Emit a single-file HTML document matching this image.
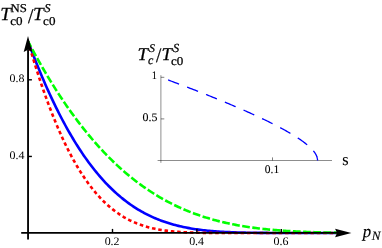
<!DOCTYPE html>
<html><head><meta charset="utf-8"><style>
html,body{margin:0;padding:0;background:#fff;}
svg{display:block;will-change:transform;}
text{text-rendering:geometricPrecision;font-family:"Liberation Serif",serif;fill:#000;}
.i{font-style:italic;}
</style></head><body>
<svg width="382" height="248" viewBox="0 0 382 248">
<rect width="382" height="248" fill="#fff"/>
<!-- curves -->
<path d="M28.10,41.50 L29.65,45.65 L31.20,49.75 L32.75,53.78 L34.30,57.76 L35.85,61.67 L37.40,65.53 L38.95,69.32 L40.50,73.06 L42.05,76.74 L43.60,80.36 L45.15,83.93 L46.70,87.44 L48.25,90.89 L49.80,94.29 L51.35,97.63 L52.90,100.91 L54.45,104.14 L56.00,107.32 L57.55,110.44 L59.09,113.51 L60.64,116.52 L62.19,119.49 L63.74,122.40 L65.29,125.25 L66.84,128.06 L68.39,130.81 L69.94,133.52 L71.49,136.17 L73.04,138.77 L74.59,141.33 L76.14,143.83 L77.69,146.29 L79.24,148.70 L80.79,151.06 L82.34,153.38 L83.89,155.64 L85.44,157.87 L86.99,160.04 L88.54,162.17 L90.09,164.26 L91.64,166.30 L93.19,168.30 L94.74,170.25 L96.29,172.17 L97.84,174.04 L99.39,175.86 L100.94,177.65 L102.49,179.40 L104.04,181.10 L105.59,182.77 L107.14,184.40 L108.69,185.99 L110.24,187.54 L111.79,189.05 L113.34,190.52 L114.89,191.96 L116.44,193.37 L117.99,194.73 L119.54,196.07 L121.08,197.37 L122.63,198.63 L124.18,199.86 L125.73,201.06 L127.28,202.22 L128.83,203.36 L130.38,204.46 L131.93,205.53 L133.48,206.57 L135.03,207.58 L136.58,208.56 L138.13,209.52 L139.68,210.44 L141.23,211.34 L142.78,212.21 L144.33,213.05 L145.88,213.87 L147.43,214.66 L148.98,215.43 L150.53,216.17 L152.08,216.89 L153.63,217.58 L155.18,218.25 L156.73,218.90 L158.28,219.53 L159.83,220.13 L161.38,220.72 L162.93,221.28 L164.48,221.82 L166.03,222.35 L167.58,222.85 L169.13,223.34 L170.68,223.80 L172.23,224.25 L173.78,224.68 L175.33,225.10 L176.88,225.50 L178.43,225.88 L179.98,226.25 L181.53,226.60 L183.07,226.94 L184.62,227.26 L186.17,227.57 L187.72,227.87 L189.27,228.15 L190.82,228.42 L192.37,228.68 L193.92,228.93 L195.47,229.17 L197.02,229.39 L198.57,229.61 L200.12,229.81 L201.67,230.00 L203.22,230.19 L204.77,230.36 L206.32,230.53 L207.87,230.69 L209.42,230.84 L210.97,230.98 L212.52,231.11 L214.07,231.24 L215.62,231.36 L217.17,231.47 L218.72,231.58 L220.27,231.68 L221.82,231.77 L223.37,231.86 L224.92,231.94 L226.47,232.02 L228.02,232.10 L229.57,232.17 L231.12,232.23 L232.67,232.29 L234.22,232.35 L235.77,232.40 L237.32,232.45 L238.87,232.49 L240.42,232.54 L241.97,232.58 L243.52,232.61 L245.06,232.65 L246.61,232.68 L248.16,232.71 L249.71,232.73 L251.26,232.76 L252.81,232.78 L254.36,232.80 L255.91,232.82 L257.46,232.84 L259.01,232.86 L260.56,232.87 L262.11,232.88 L263.66,232.90 L265.21,232.91 L266.76,232.92 L268.31,232.93 L269.86,232.93 L271.41,232.94 L272.96,232.95 L274.51,232.95 L276.06,232.96 L277.61,232.96 L279.16,232.97 L280.71,232.97 L282.26,232.98 L283.81,232.98 L285.36,232.98 L286.91,232.98 L288.46,232.99 L290.01,232.99 L291.56,232.99 L293.11,232.99 L294.66,232.99 L296.21,232.99 L297.76,232.99 L299.31,233.00 L300.86,233.00 L302.41,233.00 L303.96,233.00 L305.51,233.00 L307.05,233.00 L308.60,233.00 L310.15,233.00 L311.70,233.00 L313.25,233.00 L314.80,233.00 L316.35,233.00 L317.90,233.00 L319.45,233.00 L321.00,233.00 L322.55,233.00 L324.10,233.00 L325.65,233.00 L327.20,233.00 L328.75,233.00 L330.30,233.00 L331.85,233.00 L333.40,233.00 L334.95,233.00 L336.50,233.00" fill="none" stroke="#0000ff" stroke-width="2.6"/>
<path d="M28.10,41.50 L29.65,46.86 L31.20,52.13 L32.75,57.29 L34.30,62.36 L35.85,67.33 L37.40,72.20 L38.95,76.97 L40.50,81.65 L42.05,86.23 L43.60,90.72 L45.15,95.11 L46.70,99.41 L48.25,103.62 L49.80,107.74 L51.35,111.76 L52.90,115.70 L54.45,119.55 L56.00,123.31 L57.55,126.99 L59.09,130.57 L60.64,134.08 L62.19,137.50 L63.74,140.83 L65.29,144.09 L66.84,147.26 L68.39,150.35 L69.94,153.37 L71.49,156.30 L73.04,159.16 L74.59,161.94 L76.14,164.65 L77.69,167.28 L79.24,169.84 L80.79,172.33 L82.34,174.75 L83.89,177.09 L85.44,179.37 L86.99,181.58 L88.54,183.73 L90.09,185.81 L91.64,187.82 L93.19,189.77 L94.74,191.66 L96.29,193.49 L97.84,195.26 L99.39,196.97 L100.94,198.62 L102.49,200.21 L104.04,201.75 L105.59,203.24 L107.14,204.67 L108.69,206.05 L110.24,207.38 L111.79,208.66 L113.34,209.89 L114.89,211.08 L116.44,212.22 L117.99,213.31 L119.54,214.36 L121.08,215.37 L122.63,216.33 L124.18,217.26 L125.73,218.14 L127.28,218.99 L128.83,219.80 L130.38,220.57 L131.93,221.30 L133.48,222.01 L135.03,222.68 L136.58,223.32 L138.13,223.92 L139.68,224.50 L141.23,225.05 L142.78,225.57 L144.33,226.06 L145.88,226.53 L147.43,226.97 L148.98,227.39 L150.53,227.79 L152.08,228.16 L153.63,228.51 L155.18,228.84 L156.73,229.15 L158.28,229.44 L159.83,229.72 L161.38,229.98 L162.93,230.22 L164.48,230.44 L166.03,230.65 L167.58,230.85 L169.13,231.03 L170.68,231.20 L172.23,231.36 L173.78,231.50 L175.33,231.64 L176.88,231.77 L178.43,231.88 L179.98,231.99 L181.53,232.09 L183.07,232.18 L184.62,232.26 L186.17,232.34 L187.72,232.40 L189.27,232.47 L190.82,232.53 L192.37,232.58 L193.92,232.62 L195.47,232.67 L197.02,232.71 L198.57,232.74 L200.12,232.77 L201.67,232.80 L203.22,232.83 L204.77,232.85 L206.32,232.87 L207.87,232.89 L209.42,232.90 L210.97,232.91 L212.52,232.93 L214.07,232.94 L215.62,232.95 L217.17,232.95 L218.72,232.96 L220.27,232.97 L221.82,232.97 L223.37,232.98 L224.92,232.98 L226.47,232.98 L228.02,232.99 L229.57,232.99 L231.12,232.99 L232.67,232.99 L234.22,232.99 L235.77,233.00 L237.32,233.00 L238.87,233.00 L240.42,233.00 L241.97,233.00 L243.52,233.00 L245.06,233.00 L246.61,233.00 L248.16,233.00 L249.71,233.00 L251.26,233.00 L252.81,233.00 L254.36,233.00 L255.91,233.00 L257.46,233.00 L259.01,233.00 L260.56,233.00 L262.11,233.00 L263.66,233.00 L265.21,233.00 L266.76,233.00 L268.31,233.00 L269.86,233.00 L271.41,233.00 L272.96,233.00 L274.51,233.00 L276.06,233.00 L277.61,233.00 L279.16,233.00 L280.71,233.00 L282.26,233.00 L283.81,233.00 L285.36,233.00 L286.91,233.00 L288.46,233.00 L290.01,233.00 L291.56,233.00 L293.11,233.00 L294.66,233.00 L296.21,233.00 L297.76,233.00 L299.31,233.00 L300.86,233.00 L302.41,233.00 L303.96,233.00 L305.51,233.00 L307.05,233.00 L308.60,233.00 L310.15,233.00 L311.70,233.00 L313.25,233.00 L314.80,233.00 L316.35,233.00 L317.90,233.00 L319.45,233.00 L321.00,233.00 L322.55,233.00 L324.10,233.00 L325.65,233.00 L327.20,233.00 L328.75,233.00 L330.30,233.00 L331.85,233.00 L333.40,233.00 L334.95,233.00 L336.50,233.00" fill="none" stroke="#ff0000" stroke-width="2.6" stroke-dasharray="3.55 2.8" stroke-dashoffset="0.4"/>
<path d="M28.10,41.50 L29.65,44.43 L31.20,47.34 L32.75,50.21 L34.30,53.06 L35.85,55.88 L37.40,58.66 L38.95,61.42 L40.50,64.14 L42.05,66.84 L43.60,69.51 L45.15,72.15 L46.70,74.76 L48.25,77.34 L49.80,79.90 L51.35,82.42 L52.90,84.92 L54.45,87.39 L56.00,89.83 L57.55,92.24 L59.09,94.62 L60.64,96.98 L62.19,99.31 L63.74,101.61 L65.29,103.89 L66.84,106.14 L68.39,108.36 L69.94,110.55 L71.49,112.72 L73.04,114.86 L74.59,116.97 L76.14,119.06 L77.69,121.12 L79.24,123.16 L80.79,125.17 L82.34,127.15 L83.89,129.11 L85.44,131.05 L86.99,132.95 L88.54,134.84 L90.09,136.70 L91.64,138.53 L93.19,140.34 L94.74,142.12 L96.29,143.88 L97.84,145.62 L99.39,147.33 L100.94,149.02 L102.49,150.69 L104.04,152.33 L105.59,153.95 L107.14,155.54 L108.69,157.12 L110.24,158.66 L111.79,160.19 L113.34,161.70 L114.89,163.18 L116.44,164.64 L117.99,166.08 L119.54,167.49 L121.08,168.89 L122.63,170.26 L124.18,171.62 L125.73,172.95 L127.28,174.26 L128.83,175.55 L130.38,176.82 L131.93,178.06 L133.48,179.29 L135.03,180.50 L136.58,181.69 L138.13,182.86 L139.68,184.01 L141.23,185.14 L142.78,186.25 L144.33,187.34 L145.88,188.42 L147.43,189.47 L148.98,190.51 L150.53,191.53 L152.08,192.53 L153.63,193.51 L155.18,194.48 L156.73,195.43 L158.28,196.36 L159.83,197.27 L161.38,198.17 L162.93,199.05 L164.48,199.91 L166.03,200.76 L167.58,201.59 L169.13,202.40 L170.68,203.20 L172.23,203.98 L173.78,204.75 L175.33,205.50 L176.88,206.24 L178.43,206.96 L179.98,207.67 L181.53,208.36 L183.07,209.04 L184.62,209.71 L186.17,210.36 L187.72,211.00 L189.27,211.62 L190.82,212.23 L192.37,212.83 L193.92,213.41 L195.47,213.98 L197.02,214.54 L198.57,215.09 L200.12,215.62 L201.67,216.14 L203.22,216.65 L204.77,217.15 L206.32,217.63 L207.87,218.11 L209.42,218.57 L210.97,219.02 L212.52,219.46 L214.07,219.89 L215.62,220.31 L217.17,220.72 L218.72,221.12 L220.27,221.51 L221.82,221.89 L223.37,222.26 L224.92,222.62 L226.47,222.97 L228.02,223.31 L229.57,223.64 L231.12,223.96 L232.67,224.28 L234.22,224.58 L235.77,224.88 L237.32,225.17 L238.87,225.45 L240.42,225.73 L241.97,225.99 L243.52,226.25 L245.06,226.50 L246.61,226.74 L248.16,226.98 L249.71,227.21 L251.26,227.43 L252.81,227.64 L254.36,227.85 L255.91,228.05 L257.46,228.25 L259.01,228.44 L260.56,228.62 L262.11,228.80 L263.66,228.97 L265.21,229.14 L266.76,229.30 L268.31,229.45 L269.86,229.60 L271.41,229.75 L272.96,229.89 L274.51,230.02 L276.06,230.15 L277.61,230.28 L279.16,230.40 L280.71,230.51 L282.26,230.63 L283.81,230.74 L285.36,230.84 L286.91,230.94 L288.46,231.04 L290.01,231.13 L291.56,231.22 L293.11,231.30 L294.66,231.39 L296.21,231.47 L297.76,231.54 L299.31,231.61 L300.86,231.68 L302.41,231.75 L303.96,231.82 L305.51,231.88 L307.05,231.94 L308.60,231.99 L310.15,232.05 L311.70,232.10 L313.25,232.15 L314.80,232.19 L316.35,232.24 L317.90,232.28 L319.45,232.32 L321.00,232.36 L322.55,232.40 L324.10,232.43 L325.65,232.47 L327.20,232.50 L328.75,232.53 L330.30,232.56 L331.85,232.58 L333.40,232.61 L334.95,232.63 L336.50,232.66" fill="none" stroke="#00ff00" stroke-width="2.6" stroke-dasharray="7.7 2.5" stroke-dashoffset="1.4"/>
<!-- main axes -->
<g stroke="#000" stroke-width="1.85" fill="none">
<line x1="21.2" y1="232.8" x2="337" y2="232.8"/>
<line x1="28.05" y1="239.4" x2="28.05" y2="50"/>
</g>
<g stroke="#000" stroke-width="1.4" fill="none">
<line x1="112.5" y1="232.8" x2="112.5" y2="228.9"/>
<line x1="196.9" y1="232.8" x2="196.9" y2="228.9"/>
<line x1="281.3" y1="232.8" x2="281.3" y2="228.9"/>
<line x1="28" y1="79.8" x2="31.9" y2="79.8"/>
<line x1="28" y1="156.45" x2="31.9" y2="156.45"/>
</g>
<path d="M28,35.9 L32.3,52 L28,49.8 L23.7,52 Z" fill="#000"/>
<path d="M351.4,232.9 L335.1,237.2 L337,232.9 L335.1,228.7 Z" fill="#000"/>
<text transform="translate(112.1,244.75) scale(1.04,1)" font-size="11.5" text-anchor="middle" stroke="#000" stroke-width="0">0.2</text>
<text transform="translate(196.6,244.75) scale(1.04,1)" font-size="11.5" text-anchor="middle" stroke="#000" stroke-width="0">0.4</text>
<text transform="translate(281.0,244.75) scale(1.04,1)" font-size="11.5" text-anchor="middle" stroke="#000" stroke-width="0">0.6</text>
<text transform="translate(24.4,82.3) scale(1.04,1)" font-size="11.5" text-anchor="end" stroke="#000" stroke-width="0">0.8</text>
<text transform="translate(24.4,158.95) scale(1.04,1)" font-size="11.5" text-anchor="end" stroke="#000" stroke-width="0">0.4</text>
<text transform="translate(0.2,19.8) scale(1.03,1)" font-size="18.5" text-anchor="start" stroke="#000" stroke-width="0.25" class="i">T</text>
<text transform="translate(10.6,11.9) scale(1.063,1)" font-size="12" text-anchor="start" stroke="#000" stroke-width="0.25">NS</text>
<text transform="translate(10.2,24.8) scale(1.088,1)" font-size="12" text-anchor="start" stroke="#000" stroke-width="0.25">c0</text>
<text transform="translate(28,22.7) scale(0.92,1)" font-size="21" text-anchor="start" stroke="#000" stroke-width="0.25">/</text>
<text transform="translate(33.0,19.8) scale(1.03,1)" font-size="18.5" text-anchor="start" stroke="#000" stroke-width="0.25" class="i">T</text>
<text transform="translate(44.6,11.9) scale(1.0,1)" font-size="12" text-anchor="start" stroke="#000" stroke-width="0.25" class="i">S</text>
<text transform="translate(43.1,24.8) scale(1.088,1)" font-size="12" text-anchor="start" stroke="#000" stroke-width="0.25">c0</text>
<text transform="translate(362.7,236.9) scale(0.97,1)" font-size="17.3" text-anchor="start" stroke="#000" stroke-width="0.15" class="i">p</text>
<text transform="translate(371.7,240.0) scale(1.03,1)" font-size="12.7" text-anchor="start" stroke="#000" stroke-width="0.15" class="i">N</text>
<!-- inset -->
<g stroke="#000" stroke-width="0.45" fill="none">
<line x1="157.6" y1="160.5" x2="332" y2="160.5"/>
<line x1="160.9" y1="162.8" x2="160.9" y2="75.2"/>
</g>
<g stroke="#000" stroke-width="0.5" fill="none">
<line x1="160.9" y1="77.3" x2="164.3" y2="77.3"/>
<line x1="160.9" y1="118.9" x2="164.3" y2="118.9"/>
<line x1="272.5" y1="160.5" x2="272.5" y2="157.4"/>
</g>
<path d="M168.10,79.96 L169.83,80.60 L171.55,81.25 L173.26,81.89 L174.97,82.53 L176.68,83.17 L178.38,83.81 L180.08,84.46 L181.77,85.10 L183.46,85.74 L185.15,86.38 L186.83,87.02 L188.50,87.66 L190.17,88.31 L191.83,88.95 L193.49,89.59 L195.15,90.23 L196.80,90.87 L198.44,91.52 L200.08,92.16 L201.71,92.80 L203.34,93.44 L204.97,94.08 L206.58,94.72 L208.19,95.37 L209.80,96.01 L211.40,96.65 L213.00,97.29 L214.59,97.93 L216.17,98.58 L217.75,99.22 L219.32,99.86 L220.88,100.50 L222.44,101.14 L224.00,101.78 L225.54,102.43 L227.08,103.07 L228.62,103.71 L230.14,104.35 L231.66,104.99 L233.18,105.64 L234.69,106.28 L236.19,106.92 L237.68,107.56 L239.16,108.20 L240.64,108.84 L242.11,109.49 L243.58,110.13 L245.04,110.77 L246.48,111.41 L247.93,112.05 L249.36,112.70 L250.78,113.34 L252.20,113.98 L253.61,114.62 L255.01,115.26 L256.40,115.90 L257.79,116.55 L259.16,117.19 L260.53,117.83 L261.89,118.47 L263.23,119.11 L264.57,119.76 L265.90,120.40 L267.22,121.04 L268.53,121.68 L269.83,122.32 L271.12,122.96 L272.40,123.61 L273.67,124.25 L274.92,124.89 L276.17,125.53 L277.41,126.17 L278.63,126.82 L279.84,127.46 L281.04,128.10 L282.23,128.74 L283.41,129.38 L284.57,130.03 L285.72,130.67 L286.86,131.31 L287.99,131.95 L289.10,132.59 L290.20,133.23 L291.28,133.88 L292.35,134.52 L293.40,135.16 L294.44,135.80 L295.46,136.44 L296.47,137.09 L297.46,137.73 L298.43,138.37 L299.39,139.01 L300.33,139.65 L301.25,140.29 L302.16,140.94 L303.04,141.58 L303.90,142.22 L304.75,142.86 L305.57,143.50 L306.38,144.15 L307.16,144.79 L307.92,145.43 L308.65,146.07 L309.37,146.71 L310.06,147.35 L310.72,148.00 L311.36,148.64 L311.97,149.28 L312.56,149.92 L313.11,150.56 L313.64,151.21 L314.14,151.85 L314.61,152.49 L315.05,153.13 L315.45,153.77 L315.82,154.41 L316.16,155.06 L316.46,155.70 L316.73,156.34 L316.77,156.45 L316.81,156.55 L316.85,156.66 L316.89,156.76 L316.92,156.87 L316.96,156.97 L316.99,157.08 L317.03,157.18 L317.06,157.29 L317.09,157.40 L317.12,157.50 L317.15,157.61 L317.18,157.71 L317.21,157.82 L317.23,157.92 L317.26,158.03 L317.28,158.14 L317.30,158.24 L317.33,158.35 L317.35,158.45 L317.37,158.56 L317.39,158.66 L317.40,158.77 L317.42,158.87 L317.44,158.98 L317.45,159.09 L317.47,159.19 L317.48,159.30 L317.49,159.40 L317.50,159.51 L317.51,159.61 L317.52,159.72 L317.53,159.82 L317.53,159.93 L317.54,160.04 L317.54,160.14 L317.54,160.25 L317.55,160.35 L317.55,160.46 L317.55,160.50" fill="none" stroke="#0000ff" stroke-width="1.3" stroke-dasharray="11.7 8.62"/>
<text transform="translate(157.0,79.0) scale(0.9,1)" font-size="11.5" text-anchor="end" stroke="#000" stroke-width="0.1">1</text>
<text transform="translate(157.5,121.4) scale(1.04,1)" font-size="11.5" text-anchor="end" stroke="#000" stroke-width="0.1">0.5</text>
<text transform="translate(272.0,172.5) scale(1.0,1)" font-size="11.5" text-anchor="middle" stroke="#000" stroke-width="0.1">0.1</text>
<text transform="translate(342.3,165.0) scale(0.96,1)" font-size="17" text-anchor="start" stroke="#000" stroke-width="0.1">s</text>
<text transform="translate(137.5,59.5) scale(1.04,1)" font-size="18" text-anchor="start" stroke="#000" stroke-width="0.25" class="i">T</text>
<text transform="translate(148.9,51.9) scale(1.0,1)" font-size="11.8" text-anchor="start" stroke="#000" stroke-width="0.25" class="i">S</text>
<text transform="translate(147.9,64.1) scale(1.0,1)" font-size="12" text-anchor="start" stroke="#000" stroke-width="0.25" class="i">c</text>
<text transform="translate(156.1,61.8) scale(0.93,1)" font-size="20.5" text-anchor="start" stroke="#000" stroke-width="0.25">/</text>
<text transform="translate(161.6,59.5) scale(1.04,1)" font-size="18" text-anchor="start" stroke="#000" stroke-width="0.25" class="i">T</text>
<text transform="translate(172.9,51.9) scale(1.0,1)" font-size="12.3" text-anchor="start" stroke="#000" stroke-width="0.25" class="i">S</text>
<text transform="translate(171.0,64.7) scale(1.088,1)" font-size="12" text-anchor="start" stroke="#000" stroke-width="0.25">c0</text>
</svg>
</body></html>
